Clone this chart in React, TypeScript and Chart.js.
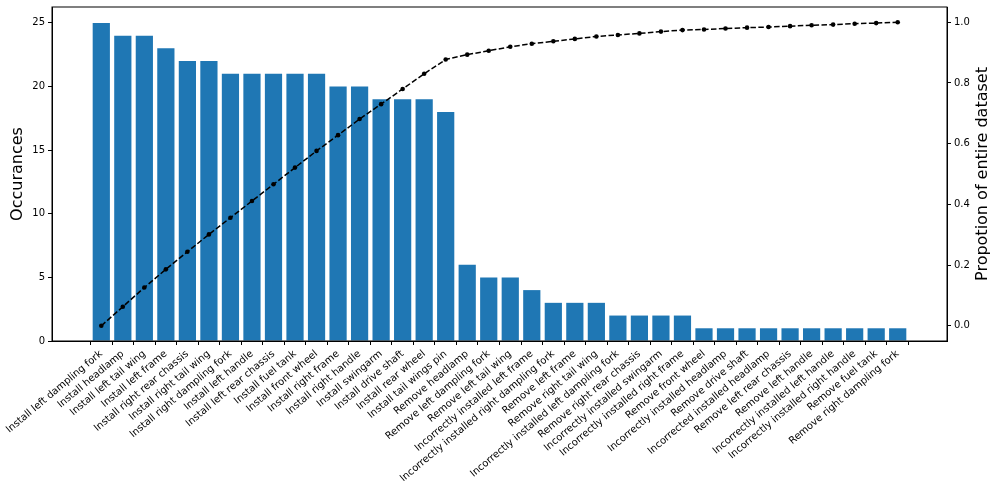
import React, { useEffect, useRef } from "react";
import { Chart, registerables } from "chart.js";

Chart.register(...registerables);

const categories = [
  "Install left dampling fork",
  "Install headlamp",
  "Install left tail wing",
  "Install left frame",
  "Install right rear chassis",
  "Install right tail wing",
  "Install right dampling fork",
  "Install left handle",
  "Install left rear chassis",
  "Install fuel tank",
  "Install front wheel",
  "Install right frame",
  "Install right handle",
  "Install swingarm",
  "Install drive shaft",
  "Install rear wheel",
  "Install tail wings pin",
  "Remove headlamp",
  "Remove left dampling fork",
  "Remove left tail wing",
  "Incorrectly installed left frame",
  "Incorrectly installed right dampling fork",
  "Remove left frame",
  "Remove right tail wing",
  "Incorrectly installed left dampling fork",
  "Remove right rear chassis",
  "Incorrectly installed swingarm",
  "Incorrectly installed right frame",
  "Remove front wheel",
  "Incorrectly installed headlamp",
  "Remove drive shaft",
  "Incorrected installed headlamp",
  "Remove left rear chassis",
  "Remove left handle",
  "Incorrectly installed left handle",
  "Incorrectly installed right handle",
  "Remove fuel tank",
  "Remove right dampling fork",
];

const occurrences = [
  25, 24, 24, 23, 22, 22, 21, 21, 21, 21, 21, 20, 20, 19, 19, 19, 18,
  6, 5, 5, 4, 3, 3, 3, 2, 2, 2, 2, 1, 1, 1, 1, 1, 1, 1, 1, 1, 1,
];

const proportion = [
  0.0, 0.063, 0.126, 0.186, 0.244, 0.301, 0.356, 0.411, 0.466, 0.521,
  0.576, 0.628, 0.681, 0.730, 0.780, 0.830, 0.877, 0.893, 0.906, 0.919,
  0.929, 0.937, 0.945, 0.953, 0.958, 0.963, 0.969, 0.974, 0.976, 0.979,
  0.982, 0.984, 0.987, 0.990, 0.992, 0.995, 0.997, 1.0,
];

const leftTicks = [0, 5, 10, 15, 20, 25];
const rightTicks = [0.0, 0.2, 0.4, 0.6, 0.8, 1.0];

const leftTitle = "Occurances";
const rightTitle = "Propotion of entire dataset";

const FONT = "'DejaVu Sans', sans-serif";

export default function App() {
  const ref = useRef<HTMLCanvasElement>(null);

  useEffect(() => {
    if (!ref.current) return;

    const framePlugin = {
      id: "frame",
      afterDraw(chart: any) {
        const { ctx, chartArea: a } = chart;
        ctx.save();
        ctx.strokeStyle = "#000";
        ctx.lineWidth = 1;
        ctx.strokeRect(a.left, a.top, a.right - a.left, a.bottom - a.top);
        const y1 = chart.scales.y1;
        ctx.translate(y1.right - 14, (a.top + a.bottom) / 2);
        ctx.rotate(-Math.PI / 2);
        ctx.fillStyle = "#000";
        ctx.font = `16px ${FONT}`;
        ctx.textAlign = "center";
        ctx.textBaseline = "middle";
        ctx.fillText(rightTitle, 0, 0);
        ctx.restore();
      },
    };

    const tickGrid = {
      display: true,
      drawOnChartArea: false,
      drawTicks: true,
      tickLength: 4,
      color: "#000",
      lineWidth: 1,
    };

    const chart = new Chart(ref.current, {
      type: "bar",
      data: {
        datasets: [
          {
            type: "line",
            data: proportion.map((v, i) => ({ x: i, y: v })),
            xAxisID: "x",
            yAxisID: "y1",
            borderColor: "#000",
            borderWidth: 1.5,
            borderDash: [5.5, 2.4],
            pointRadius: 2.3,
            pointBackgroundColor: "#000",
            pointBorderWidth: 0,
            fill: false,
            order: 0,
          } as any,
          {
            type: "bar",
            data: occurrences.map((v, i) => ({ x: i, y: v })),
            xAxisID: "x",
            yAxisID: "y",
            backgroundColor: "#1f77b4",
            borderWidth: 0,
            barPercentage: 0.8,
            categoryPercentage: 1.0,
            order: 1,
          } as any,
        ],
      },
      options: {
        animation: false,
        responsive: true,
        maintainAspectRatio: false,
        layout: { padding: { top: 7, left: 0, right: 0, bottom: 0 } },
        plugins: {
          legend: { display: false },
          tooltip: { enabled: false },
        },
        scales: {
          x: {
            type: "linear",
            min: -2.29,
            max: 39.29,
            offset: false,
            grid: tickGrid,
            border: { display: true, color: "#000" },
            afterBuildTicks: (s: any) => {
              s.ticks = categories.map((_, i) => ({ value: i }));
            },
            afterFit: (s: any) => {
              s.height = 149;
            },
            ticks: {
              autoSkip: false,
              maxRotation: 40,
              minRotation: 40,
              padding: 3,
              labelOffset: 0,
              color: "#000",
              font: { family: FONT, size: 10 },
              callback: (v: any) => categories[v as number],
            },
          },
          y: {
            type: "linear",
            position: "left",
            min: 0,
            max: 26.25,
            grid: tickGrid,
            border: { display: true, color: "#000" },
            afterBuildTicks: (s: any) => {
              s.ticks = leftTicks.map((v) => ({ value: v }));
            },
            afterFit: (s: any) => {
              s.width = 52;
              s.paddingTop = 2;
              s.paddingBottom = 2;
            },
            ticks: {
              padding: 3,
              color: "#000",
              font: { family: FONT, size: 10 },
              callback: (v: any) => String(v),
            },
            title: {
              display: true,
              text: leftTitle,
              color: "#000",
              font: { family: FONT, size: 16 },
              padding: { top: 8, bottom: 0 },
            },
          },
          y1: {
            type: "linear",
            position: "right",
            min: -0.05,
            max: 1.05,
            grid: tickGrid,
            border: { display: true, color: "#000" },
            afterBuildTicks: (s: any) => {
              s.ticks = rightTicks.map((v) => ({ value: v }));
            },
            afterFit: (s: any) => {
              s.width = 50;
              s.paddingTop = 2;
              s.paddingBottom = 2;
            },
            ticks: {
              padding: 3,
              color: "#000",
              font: { family: FONT, size: 10 },
              callback: (v: any) => Number(v).toFixed(1),
            },
          },
        },
      } as any,
      plugins: [framePlugin],
    });

    return () => chart.destroy();
  }, []);

  return (
    <div
      style={{
        position: "absolute",
        left: 0,
        top: 0,
        width: 997,
        height: 490,
        background: "#fff",
      }}
    >
      <canvas ref={ref} />
    </div>
  );
}
